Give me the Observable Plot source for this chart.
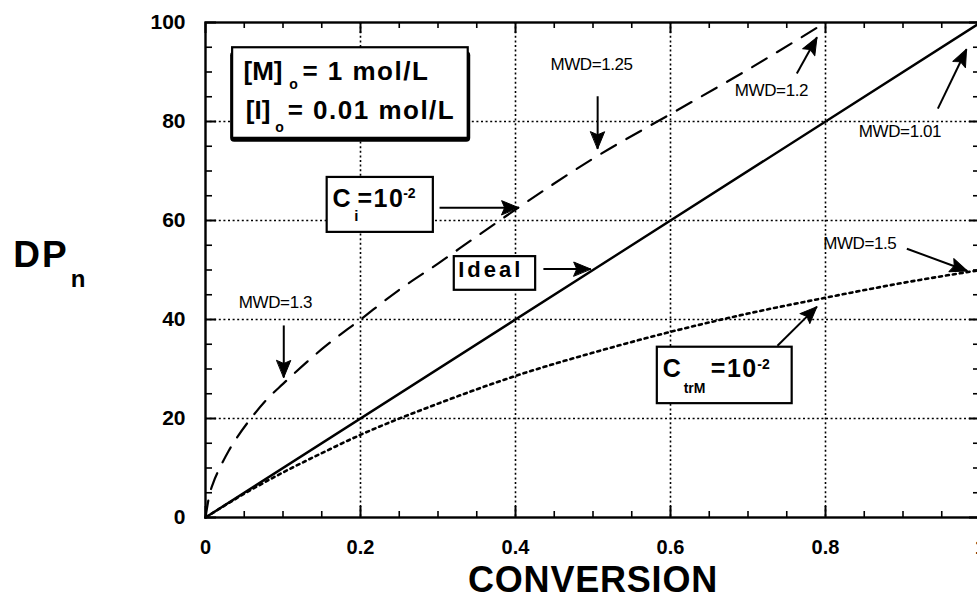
<!DOCTYPE html>
<html><head><meta charset="utf-8">
<script src="https://cdn.jsdelivr.net/npm/d3@7"></script>
<script src="https://cdn.jsdelivr.net/npm/@observablehq/plot@0.6"></script>
<style>
html,body{margin:0;padding:0;background:#fff;}
#chart svg{display:block;}
</style></head><body><div id="chart"></div>
<script>
// ---- data ----
const idealX = [0, 1];
const idealY = [0, 100];
const initiatorX = [0, 0.005, 0.01, 0.02, 0.03, 0.04, 0.06, 0.08, 0.1, 0.15, 0.2, 0.25, 0.3, 0.35, 0.4, 0.5, 0.6, 0.7, 0.8];
const initiatorY = [0, 4.5, 7, 10.5, 13.5, 16, 20.3, 24, 27, 34, 40, 46, 51.3, 56.8, 62.2, 72.5, 81.5, 90.5, 100];
const transferX = [0, 0.05, 0.1, 0.15, 0.2, 0.3, 0.4, 0.5, 0.6, 0.7, 0.8, 0.9, 1];
const transferY = [0, 4.8, 9.1, 13, 16.7, 23, 28.6, 33.3, 37.5, 41.2, 44.4, 47.4, 50];

const xTicks = [0, 0.2, 0.4, 0.6, 0.8, 1];
const xTickLabels = ["0", "0.2", "0.4", "0.6", "0.8", "1"];
const yTicks = [0, 20, 40, 60, 80, 100];
const yTickLabels = ["0", "20", "40", "60", "80", "100"];
const xMinor = [0.05,0.1,0.15,0.25,0.3,0.35,0.45,0.5,0.55,0.65,0.7,0.75,0.85,0.9,0.95];
const yMinor = [5,10,15,25,30,35,45,50,55,65,70,75,85,90,95];
const xGrid = [0.2, 0.4, 0.6, 0.8];
const yGrid = [20, 40, 60, 80];

// ---- annotations (data units) ----
const boxes = [
  {x1: 0.035, x2: 0.339, y1: 76.6, y2: 94.9, shadow: true},
  {x1: 0.157, x2: 0.294, y1: 57.6, y2: 68.7},
  {x1: 0.321, x2: 0.426, y1: 45.9, y2: 52.7},
  {x1: 0.583, x2: 0.757, y1: 23.0, y2: 34.4}
];
const boxTexts = [
  {x: 0.049, y: 88.3, t: "[M]", s: 26},
  {x: 0.108, y: 86.5, t: "o", s: 14},
  {x: 0.125, y: 88.3, t: "= 1 mol/L", s: 26, ls: 1.5},
  {x: 0.052, y: 80.6, t: "[I]", s: 26},
  {x: 0.090, y: 77.8, t: "o", s: 14},
  {x: 0.106, y: 80.6, t: "= 0.01 mol/L", s: 26, ls: 1.5},
  {x: 0.164, y: 62.7, t: "C", s: 25},
  {x: 0.192, y: 60.0, t: "i", s: 15},
  {x: 0.196, y: 62.7, t: "=10", s: 25},
  {x: 0.255, y: 64.6, t: "-2", s: 14},
  {x: 0.326, y: 48.5, t: "Ideal", s: 22, ls: 3},
  {x: 0.590, y: 28.3, t: "C", s: 25},
  {x: 0.617, y: 25.1, t: "trM", s: 14},
  {x: 0.652, y: 28.3, t: "=10", s: 25, ls: 1.5},
  {x: 0.712, y: 30.1, t: "-2", s: 14}
];
const mwdTexts = [
  {x: 0.445, y: 90.5, t: "MWD=1.25", w: "normal"},
  {x: 0.683, y: 85.1, t: "MWD=1.2", w: "normal"},
  {x: 0.843, y: 76.8, t: "MWD=1.01", w: "bold"},
  {x: 0.043, y: 42.4, t: "MWD=1.3", w: "normal"},
  {x: 0.797, y: 54.3, t: "MWD=1.5", w: "normal"}
];
const arrows = [
  {x1: 0.506, y1: 85.1, x2: 0.506, y2: 74.5},
  {x1: 0.763, y1: 89.7, x2: 0.789, y2: 97.0},
  {x1: 0.945, y1: 82.6, x2: 0.982, y2: 94.6},
  {x1: 0.101, y1: 38.8, x2: 0.101, y2: 28.3},
  {x1: 0.905, y1: 54.3, x2: 0.983, y2: 49.8},
  {x1: 0.302, y1: 62.6, x2: 0.404, y2: 62.6},
  {x1: 0.436, y1: 50.2, x2: 0.497, y2: 50.2},
  {x1: 0.738, y1: 34.7, x2: 0.789, y2: 42.6}
];

const toRows = (xs, ys) => xs.map((x, i) => ({x, y: ys[i]}));
const ideal = toRows(idealX, idealY);
const initiator = toRows(initiatorX, initiatorY);
const transfer = toRows(transferX, transferY);

const W = 977, H = 599, ML = 205, MR = -3, MT = 22, MB = 82;
const FH = H - MT - MB, FW = W - ML - MR;
const font = "Liberation Sans, Arial, Helvetica, sans-serif";

// arrowhead direction in screen space (degrees clockwise from up)
const pxPerX = FW / 1, pxPerY = FH / 100;
const headAngle = d => Math.atan2((d.x2 - d.x1) * pxPerX, (d.y2 - d.y1) * pxPerY) * 180 / Math.PI;
const headShape = {
  draw(ctx, l) {
    const w = 7;
    ctx.moveTo(0, -l);
    ctx.lineTo(-w, 0);
    ctx.lineTo(0, -l * 0.18);
    ctx.lineTo(w, 0);
    ctx.closePath();
  }
};

const chart = Plot.plot({
  width: W,
  height: H,
  marginLeft: ML,
  marginRight: MR,
  marginTop: MT,
  marginBottom: MB,
  style: {fontFamily: font, color: "black", background: "white"},
  x: {domain: [0, 1], axis: null},
  y: {domain: [0, 100], axis: null},
  marks: [
    Plot.ruleX(xGrid, {stroke: "black", strokeWidth: 1.6, strokeDasharray: "2,2.6"}),
    Plot.ruleY(yGrid, {stroke: "black", strokeWidth: 1.6, strokeDasharray: "2,2.6"}),
    // ticks
    Plot.ruleX(xMinor, {stroke: "black", strokeWidth: 1.6, insetTop: FH - 6}),
    Plot.ruleX(xTicks, {stroke: "black", strokeWidth: 2, insetTop: FH - 11}),
    Plot.ruleX(xMinor, {stroke: "black", strokeWidth: 1.6, insetBottom: FH - 6}),
    Plot.ruleX(xTicks, {stroke: "black", strokeWidth: 2, insetBottom: FH - 11}),
    Plot.ruleY(yMinor, {stroke: "black", strokeWidth: 1.6, insetRight: FW - 7}),
    Plot.ruleY(yTicks, {stroke: "black", strokeWidth: 2, insetRight: FW - 11}),
    Plot.ruleY(yMinor, {stroke: "black", strokeWidth: 1.6, insetLeft: FW - 7}),
    Plot.ruleY(yTicks, {stroke: "black", strokeWidth: 2, insetLeft: FW - 11}),
    Plot.frame({stroke: "black", strokeWidth: 2.4}),
    // curves
    Plot.line(ideal, {x: "x", y: "y", stroke: "black", strokeWidth: 2.4}),
    Plot.line(initiator, {x: "x", y: "y", stroke: "black", strokeWidth: 2.2, strokeDasharray: "17,12", curve: "monotone-x"}),
    Plot.line(transfer, {x: "x", y: "y", stroke: "black", strokeWidth: 2.6, strokeDasharray: "3,4", curve: "monotone-x"}),
    // boxes
    Plot.rect(boxes.filter(d => d.shadow), {x1: "x1", x2: "x2", y1: "y1", y2: "y2", fill: "black", dy: 4, insetLeft: -2, insetRight: -2.5, rx: 4}),
    Plot.rect(boxes, {x1: "x1", x2: "x2", y1: "y1", y2: "y2", fill: "white", stroke: "black", strokeWidth: 2.2}),
    Plot.text(boxTexts, {x: "x", y: "y", text: "t", fontSize: d => d.s, fontWeight: "bold", textAnchor: "start", lineAnchor: "bottom"}),
    Plot.text(mwdTexts, {x: "x", y: "y", text: "t", fontSize: 17, fontWeight: d => d.w, textAnchor: "start", lineAnchor: "bottom"}),
    // arrows: shaft + filled head
    Plot.link(arrows, {x1: "x1", y1: "y1", x2: "x2", y2: "y2", stroke: "black", strokeWidth: 2}),
    Plot.vector(arrows, {x: "x2", y: "y2", length: 17, rotate: headAngle, anchor: "end", shape: headShape, fill: "black", stroke: "black", strokeWidth: 1}),
    // tick labels
    Plot.text(xTicks, {x: d => d, text: (d, i) => xTickLabels[i], frameAnchor: "bottom", lineAnchor: "bottom", dy: 36, fontSize: 20, fontWeight: "bold"}),
    Plot.text(yTicks, {y: d => d, text: (d, i) => yTickLabels[i], frameAnchor: "left", textAnchor: "end", lineAnchor: "middle", dx: -20, fontSize: 21, fontWeight: "bold"}),
    // axis titles
    Plot.text(["CONVERSION"], {x: 0.5, frameAnchor: "bottom", lineAnchor: "bottom", dy: 74, fontSize: 36, fontWeight: "bold"}),
    Plot.text(["DP"], {x: -0.248, y: 50.6, textAnchor: "start", lineAnchor: "bottom", fontSize: 37, fontWeight: "bold"}),
    Plot.text(["n"], {x: -0.174, y: 46.5, textAnchor: "start", lineAnchor: "bottom", fontSize: 24, fontWeight: "bold"})
  ]
});

// letter spacing tweaks for boxed labels
const spacing = {};
boxTexts.forEach(d => { if (d.ls) spacing[d.t] = d.ls; });
spacing["DP"] = 2;
spacing["CONVERSION"] = 0.8;
chart.querySelectorAll("text").forEach(t => {
  const s = spacing[t.textContent];
  if (s != null) t.setAttribute("letter-spacing", s);
  if (/^MWD/.test(t.textContent)) t.setAttribute("letter-spacing", -0.4);
});

document.getElementById("chart").appendChild(chart);
</script>
</body></html>
